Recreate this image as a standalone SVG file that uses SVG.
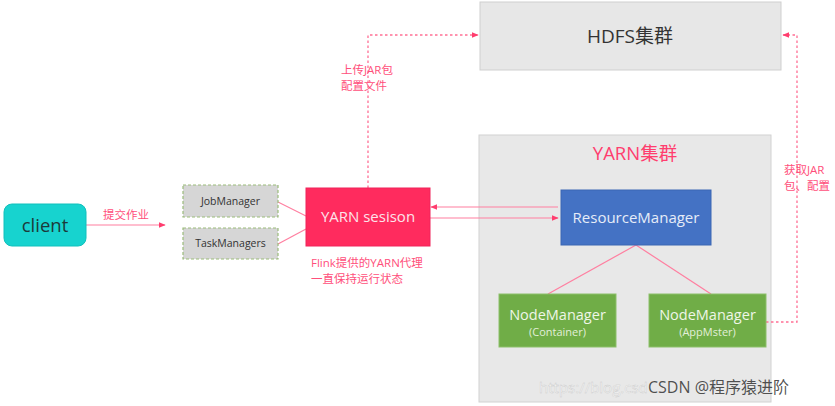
<svg xmlns="http://www.w3.org/2000/svg" width="835" height="406" viewBox="0 0 835 406">
<defs>
<style>
text{font-family:"Open Sans","Noto Sans","Noto Sans CJK SC",sans-serif}
.lbl{fill:#ff4f7b;font-size:11.5px}
.solid{stroke:#ff7fa0;stroke-width:1.2;fill:none}
.dash{stroke:#ff6f94;stroke-width:1.3;fill:none;stroke-dasharray:2.5,2.5}
.tm{fill:#d6d6d6;stroke:#9bbb7b;stroke-width:1.2;stroke-dasharray:3,2}
.nm{fill:#70ad47;stroke:#8cbf6a;stroke-width:1}
</style>
<marker id="ah" viewBox="0 0 10 10" refX="9" refY="5" markerWidth="7" markerHeight="7" orient="auto-start-reverse" markerUnits="userSpaceOnUse">
<path d="M0,1 L10,5 L0,9 z" fill="#ff3d6e"/>
</marker>
</defs>
<rect width="835" height="406" fill="#fff"/>

<g id="hdfs">
<rect x="480" y="2" width="301" height="68" fill="#e7e7e7" stroke="#cfcfcf"/>
<text x="630" y="43" font-size="19" fill="#333" text-anchor="middle">HDFS集群</text>
</g>

<g id="yarn-cluster">
<rect x="479" y="135" width="292" height="267" fill="#e8e8e8" stroke="#d2d2d2"/>
<text x="635" y="160" font-size="18.5" fill="#ff3d6e" text-anchor="middle">YARN集群</text>
</g>

<g id="connectors">
<line class="solid" x1="86" y1="225" x2="165" y2="225" marker-end="url(#ah)"/>
<line class="solid" x1="278" y1="202" x2="306" y2="216"/>
<line class="solid" x1="278" y1="244" x2="306" y2="229"/>
<line class="solid" x1="558" y1="207" x2="431" y2="207" marker-end="url(#ah)"/>
<line class="solid" x1="430" y1="218" x2="558" y2="218" marker-end="url(#ah)"/>
<line class="solid" x1="636" y1="245" x2="548" y2="294"/>
<line class="solid" x1="636" y1="245" x2="711" y2="294"/>
<polyline class="dash" points="368,188 368,35 478,35" marker-end="url(#ah)"/>
<polyline class="dash" points="766,322 797,322 797,35 783,35" marker-end="url(#ah)"/>
</g>

<g id="client">
<rect x="4" y="204" width="82" height="42" rx="8" fill="#17d3cf" stroke="#11c0bc"/>
<text x="45" y="232" font-size="18.5" fill="#1c3a3a" text-anchor="middle">client</text>
</g>
<text class="lbl" x="103" y="219" font-size="12">提交作业</text>

<g id="jobmanager">
<rect class="tm" x="183" y="185" width="95" height="32"/>
<text x="230.5" y="205" font-size="10.5" fill="#333" text-anchor="middle">JobManager</text>
</g>
<g id="taskmanagers">
<rect class="tm" x="183" y="228" width="95" height="31"/>
<text x="230.5" y="247" font-size="10.5" fill="#333" text-anchor="middle">TaskManagers</text>
</g>

<g id="yarn-session">
<rect x="306" y="188" width="124" height="58" fill="#ff2b5e" stroke="#f0245a"/>
<text x="368" y="222" font-size="15" fill="#fde3ea" text-anchor="middle">YARN sesison</text>
</g>
<text class="lbl" x="311" y="267">Flink提供的YARN代理</text>
<text class="lbl" x="311" y="283">一直保持运行状态</text>
<text class="lbl" x="341" y="74">上传JAR包</text>
<text class="lbl" x="341" y="90">配置文件</text>
<text class="lbl" x="784" y="174">获取JAR</text>
<text class="lbl" x="784" y="190">包、配置</text>

<g id="resourcemanager">
<rect x="561" y="190" width="150" height="55" fill="#4472c4" stroke="#3b66b3"/>
<text x="636" y="223" font-size="15" fill="#e6ecf8" text-anchor="middle">ResourceManager</text>
</g>

<g id="nodemanager1">
<rect class="nm" x="499" y="294" width="117" height="53"/>
<text x="557.5" y="320" font-size="14.5" fill="#eef6e8" text-anchor="middle">NodeManager</text>
<text x="557.5" y="336" font-size="11" fill="#e2efd9" text-anchor="middle">(Container)</text>
</g>
<g id="nodemanager2">
<rect class="nm" x="649" y="294" width="117" height="53"/>
<text x="707.5" y="320" font-size="14.5" fill="#eef6e8" text-anchor="middle">NodeManager</text>
<text x="707.5" y="336" font-size="11" fill="#e2efd9" text-anchor="middle">(AppMster)</text>
</g>

<g id="watermark">
<text x="539" y="393" font-size="15" fill="#ffffff" fill-opacity="0.75" stroke="#c8c8c8" stroke-width="0.4">https://blog.csd</text>
<text x="648" y="393" font-size="16" fill="#333" fill-opacity="0.85" font-family="'Liberation Sans','Noto Sans CJK SC',sans-serif">CSDN @程序猿进阶</text>
</g>
</svg>
